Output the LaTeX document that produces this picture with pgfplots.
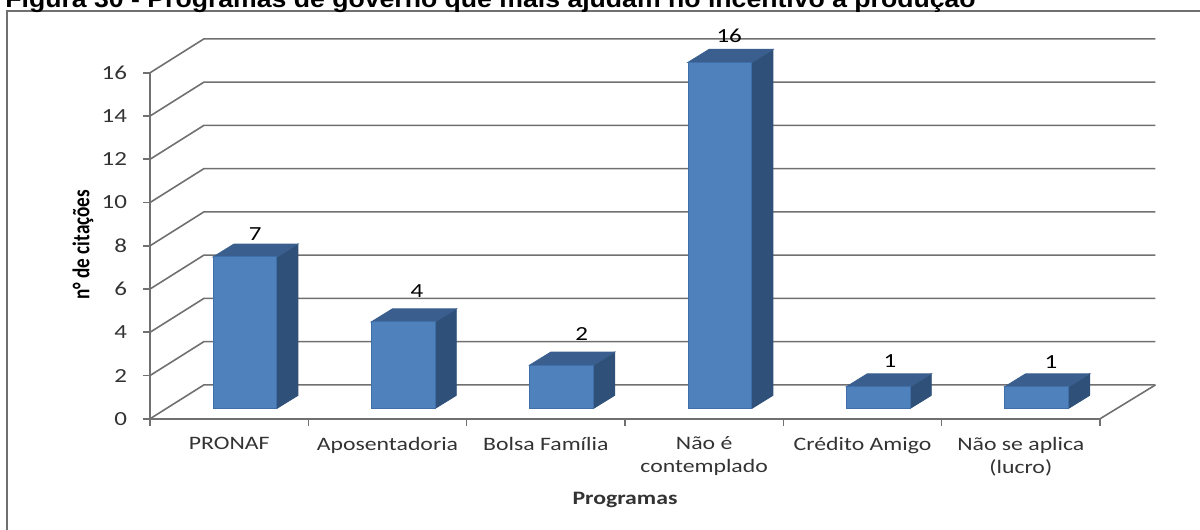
\documentclass[border=0pt]{standalone}
\usepackage{fontspec}
\usepackage{pgfplots}
\usepackage{pgfplotstable}
\pgfplotsset{compat=1.18}
\setmainfont{Carlito}[FakeStretch=1.25]
\newfontfamily\titlefont{Liberation Sans}[FakeStretch=1.1]
\newfontfamily\ylabelfont{Carlito}[FakeStretch=0.8]

\definecolor{wallgray}{HTML}{707070}
\definecolor{inktext}{HTML}{333333}
\definecolor{barfront}{HTML}{4F81BD}
\definecolor{baredge}{HTML}{3F6EA8}
\definecolor{bartop}{HTML}{3A5F8E}
\definecolor{barside}{HTML}{2F5078}

% idx: category, v: citations, lx/ly: label position relative to the bar
\pgfplotstableread{
idx v lx ly
0 7 0.165 1.55
1 4 0.186 1.90
2 2 0.227 1.90
3 16 0.158 1.70
4 1 0.174 1.67
5 1 0.190 1.62
}\citdata

% one 3D bar: front face, top and side, depth offset 0.1326 / 0.6
\newcommand{\threedbar}[2]{%
  \pgfmathsetmacro{\xa}{#1-0.102}%
  \pgfmathsetmacro{\xb}{#1+0.302}%
  \pgfmathsetmacro{\xc}{#1+0.4346}%
  \pgfmathsetmacro{\xd}{#1+0.0306}%
  \pgfmathsetmacro{\yt}{#2+0.483}%
  \pgfmathsetmacro{\ytt}{#2+1.083}%
  \addplot[draw=barside, line width=0.4pt, fill=barside] coordinates {(\xb,0.483) (\xc,1.083) (\xc,\ytt) (\xb,\yt)} -- cycle;
  \addplot[draw=bartop, line width=0.4pt, fill=bartop] coordinates {(\xa,\yt) (\xb,\yt) (\xc,\ytt) (\xd,\ytt)} -- cycle;
  \addplot[draw=baredge, line width=0.5pt, fill=barfront] coordinates {(\xa,0.483) (\xb,0.483) (\xb,\yt) (\xa,\yt)} -- cycle;
}

\begin{document}
\begin{tikzpicture}
\useasboundingbox (0,0) rectangle (600pt,265pt);
\clip (0,0) rectangle (600pt,265pt);
\draw[wallgray, line width=0.9pt] (3.5pt,0) -- (3.5pt,259.5pt) -- (600pt,259.5pt);
\node[anchor=base west, inner sep=0pt, font=\titlefont\bfseries\fontsize{12.1}{14}\selectfont] at (2.5pt,261pt)
  {Figura 30 - Programas de governo que mais ajudam no incentivo à produção};
\begin{axis}[
    at={(75pt,55.6pt)},
    scale only axis,
    width=475pt,
    height=173pt,
    xmin=-0.5, xmax=5.5,
    ymin=0, ymax=16,
    clip=false,
    axis x line*=bottom,
    axis y line*=left,
    axis line style={wallgray, line width=0.8pt, -},
    tick style={wallgray, line width=0.8pt},
    tick align=outside,
    major tick length=3.5pt,
    xtick={-0.5,0.5,1.5,2.5,3.5,4.5,5.5},
    x tick label as interval,
    xticklabels={PRONAF,Aposentadoria,Bolsa Família,Não é\\contemplado,Crédito Amigo,Não se aplica\\(lucro)},
    xticklabel style={align=center, text=inktext, font=\fontsize{9.5}{11.5}\selectfont, yshift=-2pt},
    ytick={0,2,...,16},
    yticklabel style={text=inktext, font=\fontsize{10}{12}\selectfont, xshift=-4.5pt},
    /pgf/number format/assume math mode=true,
    xlabel={Programas},
    xlabel style={at={(axis description cs:0.5,-0.234)}, anchor=center, text=inktext, font=\bfseries\fontsize{9.5}{11}\selectfont},
    ylabel={n° de citações},
    ylabel style={at={(axis description cs:-0.0705,0.503)}, anchor=center, rotate=0, text=black, font=\ylabelfont\bfseries\fontsize{12}{14}\selectfont},
]
% back walls and floor
\pgfplotsinvokeforeach{0,2,...,16}{
  \draw[wallgray, line width=0.8pt] (axis cs:-0.5,#1) -- (axis cs:-0.16,#1+1.566) -- (axis cs:5.85,#1+1.566);
}
\draw[wallgray, line width=0.8pt] (axis cs:5.5,0) -- (axis cs:5.85,1.566);

\pgfplotsforeachungrouped \i in {0,...,5}{
  \pgfplotstablegetelem{\i}{v}\of\citdata
  \let\citval\pgfplotsretval
  \threedbar{\i}{\citval}
}

% value labels
\addplot[only marks, mark=none, point meta=explicit,
    nodes near coords,
    nodes near coords style={anchor=center, text=black, inner sep=0pt, font=\fontsize{10}{12}\selectfont}]
  table[x expr=\thisrow{idx}+\thisrow{lx}, y expr=\thisrow{v}+\thisrow{ly}, meta=v] {\citdata};
\end{axis}
\end{tikzpicture}
\end{document}
